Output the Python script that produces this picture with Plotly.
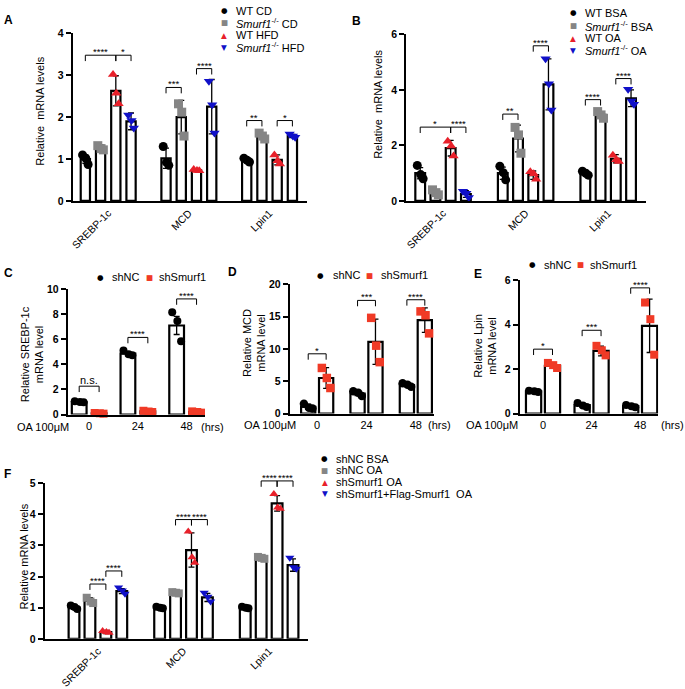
import plotly.graph_objects as go

W, H = 685, 689
FONT = "Liberation Sans, Arial, Helvetica, sans-serif"
GLYPH_FONT = "DejaVu Sans"

# ======================= DATA =======================
GENES = ["SREBP-1c", "MCD", "Lpin1"]
HOURS = ["0", "24", "48"]
KO = "<i>Smurf1</i><sup>-/-</sup>"

# ---- Panel A (CD vs HFD) ----
A_NAMES = ["WT CD", KO + " CD", "WT HFD", KO + " HFD"]
A_WT_CD_MEAN = [1.00, 1.02, 0.97]
A_WT_CD_SD = [0.10, 0.24, 0.04]
A_WT_CD_PTS = [[1.10, 1.02, 0.87], [1.30, 0.92, 0.85], [1.02, 0.97, 0.93]]
A_KO_CD_MEAN = [1.27, 2.00, 1.55]
A_KO_CD_SD = [0.07, 0.40, 0.08]
A_KO_CD_PTS = [[1.32, 1.25, 1.22], [2.32, 2.12, 1.55], [1.62, 1.55, 1.48]]
A_WT_HFD_MEAN = [2.63, 0.73, 0.98]
A_WT_HFD_SD = [0.36, 0.02, 0.12]
A_WT_HFD_PTS = [[3.02, 2.57, 2.32], [0.75, 0.73, 0.72], [1.10, 0.96, 0.88]]
A_KO_HFD_MEAN = [1.90, 2.25, 1.55]
A_KO_HFD_SD = [0.20, 0.65, 0.04]
A_KO_HFD_PTS = [[2.05, 1.92, 1.74], [2.86, 2.30, 1.62], [1.60, 1.55, 1.52]]
A_SIG = [(0, 0, 2, 3.48, "****"), (0, 2, 3, 3.48, "*"), (1, 0, 1, 2.71, "***"),
         (1, 2, 3, 3.16, "****"), (2, 0, 1, 1.92, "**"), (2, 2, 3, 1.92, "*")]

# ---- Panel B (BSA vs OA) ----
B_NAMES = ["WT BSA", KO + " BSA", "WT OA", KO + " OA"]
B_WT_BSA_MEAN = [1.00, 1.00, 1.00]
B_WT_BSA_SD = [0.20, 0.22, 0.06]
B_WT_BSA_PTS = [[1.28, 0.95, 0.80], [1.25, 1.02, 0.76], [1.07, 1.00, 0.93]]
B_KO_BSA_MEAN = [0.30, 2.25, 3.10]
B_KO_BSA_SD = [0.10, 0.48, 0.12]
B_KO_BSA_PTS = [[0.40, 0.30, 0.22], [2.65, 2.38, 1.72], [3.22, 3.10, 2.98]]
B_WT_OA_MEAN = [1.90, 0.93, 1.52]
B_WT_OA_SD = [0.28, 0.15, 0.15]
B_WT_OA_PTS = [[2.15, 1.98, 1.62], [1.05, 0.98, 0.78], [1.65, 1.48, 1.42]]
B_KO_OA_MEAN = [0.25, 4.20, 3.70]
B_KO_OA_SD = [0.12, 0.92, 0.30]
B_KO_OA_PTS = [[0.35, 0.28, 0.12], [5.12, 4.22, 3.28], [4.02, 3.60, 3.48]]
B_SIG = [(0, 0, 2, 2.66, "*"), (0, 2, 3, 2.66, "****"), (1, 0, 1, 3.13, "**"),
         (1, 2, 3, 5.59, "****"), (2, 0, 1, 3.65, "****"), (2, 2, 3, 4.41, "****")]

# ---- Panels C, D, E (shNC vs shSmurf1, OA time course) ----
SH_NAMES = ["shNC", "shSmurf1"]
C_NC_MEAN = [1.00, 4.85, 7.10]
C_NC_SD = [0.05, 0.17, 0.72]
C_NC_PTS = [[1.05, 1.00, 0.97], [5.10, 4.80, 4.72], [8.15, 7.45, 5.85]]
C_SH_MEAN = [0.10, 0.25, 0.20]
C_SH_SD = [0.03, 0.05, 0.05]
C_SH_PTS = [[0.12, 0.10, 0.07], [0.30, 0.24, 0.20], [0.25, 0.20, 0.15]]
C_SIG = [(0, 0, 1, 2.26, "n.s."), (1, 0, 1, 6.15, "****"), (2, 0, 1, 9.22, "****")]

D_NC_MEAN = [1.05, 3.10, 4.40]
D_NC_SD = [0.40, 0.32, 0.22]
D_NC_PTS = [[1.52, 0.90, 0.78], [3.45, 3.20, 2.70], [4.68, 4.45, 4.15]]
D_SH_MEAN = [5.50, 11.10, 14.45]
D_SH_SD = [1.60, 3.50, 1.90]
D_SH_PTS = [[7.05, 5.50, 3.95], [14.80, 10.50, 7.95], [15.80, 15.20, 12.40]]
D_SIG = [(0, 0, 1, 9.24, "*"), (1, 0, 1, 17.5, "***"), (2, 0, 1, 17.6, "****")]

E_NC_MEAN = [1.00, 0.38, 0.33]
E_NC_SD = [0.03, 0.08, 0.05]
E_NC_PTS = [[1.03, 1.00, 0.97], [0.48, 0.36, 0.30], [0.38, 0.33, 0.28]]
E_SH_MEAN = [2.15, 2.82, 3.95]
E_SH_SD = [0.12, 0.22, 1.20]
E_SH_PTS = [[2.28, 2.18, 2.05], [3.05, 2.85, 2.62], [5.00, 4.25, 2.65]]
E_SIG = [(0, 0, 1, 2.90, "*"), (1, 0, 1, 3.75, "***"), (2, 0, 1, 5.66, "****")]

# ---- Panel F (rescue) ----
F_NAMES = ["shNC BSA", "shNC OA", "shSmurf1 OA", "shSmurf1+Flag-Smurf1  OA"]
F_BSA_MEAN = [1.00, 1.00, 1.00]
F_BSA_SD = [0.05, 0.03, 0.03]
F_BSA_PTS = [[1.07, 1.02, 0.96], [1.03, 1.00, 0.98], [1.03, 1.00, 0.98]]
F_OA_MEAN = [1.22, 1.48, 2.60]
F_OA_SD = [0.10, 0.03, 0.04]
F_OA_PTS = [[1.32, 1.20, 1.15], [1.50, 1.48, 1.46], [2.63, 2.60, 2.57]]
F_SH_MEAN = [0.22, 2.85, 4.35]
F_SH_SD = [0.05, 0.55, 0.25]
F_SH_PTS = [[0.25, 0.22, 0.20], [3.45, 2.62, 2.44], [4.65, 4.22, 4.18]]
F_FLAG_MEAN = [1.53, 1.33, 2.37]
F_FLAG_SD = [0.08, 0.13, 0.20]
F_FLAG_PTS = [[1.65, 1.55, 1.45], [1.48, 1.35, 1.20], [2.60, 2.30, 2.25]]
F_SIG = [(0, 1, 2, 1.76, "****"), (0, 2, 3, 2.18, "****"), (1, 1, 2, 3.83, "****"),
         (1, 2, 3, 3.83, "****"), (2, 1, 2, 5.07, "****"), (2, 2, 3, 5.07, "****")]

# ======================= STYLE =======================
BLACK, GREY, RED, BLUE, RED2 = "#000000", "#858585", "#e8202a", "#1010c8", "#f03a26"
STYLES = {
    "circle": ("circle", BLACK, "●"),
    "square": ("square", GREY, "■"),
    "up": ("triangle-up", RED, "▲"),
    "down": ("triangle-down", BLUE, "▼"),
    "rsq": ("square", RED2, "■"),
}
BAR_LW = 2.2
AX_LW = 2
JIT = [-0.3, 0.05, 0.3]

def ser(name, mean, sd, pts, style):
    return dict(name=name, mean=mean, sd=sd, pts=pts, style=style)

A_SERIES = [ser(A_NAMES[0], A_WT_CD_MEAN, A_WT_CD_SD, A_WT_CD_PTS, "circle"),
            ser(A_NAMES[1], A_KO_CD_MEAN, A_KO_CD_SD, A_KO_CD_PTS, "square"),
            ser(A_NAMES[2], A_WT_HFD_MEAN, A_WT_HFD_SD, A_WT_HFD_PTS, "up"),
            ser(A_NAMES[3], A_KO_HFD_MEAN, A_KO_HFD_SD, A_KO_HFD_PTS, "down")]
B_SERIES = [ser(B_NAMES[0], B_WT_BSA_MEAN, B_WT_BSA_SD, B_WT_BSA_PTS, "circle"),
            ser(B_NAMES[1], B_KO_BSA_MEAN, B_KO_BSA_SD, B_KO_BSA_PTS, "square"),
            ser(B_NAMES[2], B_WT_OA_MEAN, B_WT_OA_SD, B_WT_OA_PTS, "up"),
            ser(B_NAMES[3], B_KO_OA_MEAN, B_KO_OA_SD, B_KO_OA_PTS, "down")]
C_SERIES = [ser(SH_NAMES[0], C_NC_MEAN, C_NC_SD, C_NC_PTS, "circle"),
            ser(SH_NAMES[1], C_SH_MEAN, C_SH_SD, C_SH_PTS, "rsq")]
D_SERIES = [ser(SH_NAMES[0], D_NC_MEAN, D_NC_SD, D_NC_PTS, "circle"),
            ser(SH_NAMES[1], D_SH_MEAN, D_SH_SD, D_SH_PTS, "rsq")]
E_SERIES = [ser(SH_NAMES[0], E_NC_MEAN, E_NC_SD, E_NC_PTS, "circle"),
            ser(SH_NAMES[1], E_SH_MEAN, E_SH_SD, E_SH_PTS, "rsq")]
F_SERIES = [ser(F_NAMES[0], F_BSA_MEAN, F_BSA_SD, F_BSA_PTS, "circle"),
            ser(F_NAMES[1], F_OA_MEAN, F_OA_SD, F_OA_PTS, "square"),
            ser(F_NAMES[2], F_SH_MEAN, F_SH_SD, F_SH_PTS, "up"),
            ser(F_NAMES[3], F_FLAG_MEAN, F_FLAG_SD, F_FLAG_PTS, "down")]

# layout of each panel (pixel geometry)
CFG = {
    "A": dict(n=1, xpx=(70, 305), ypx=(28, 199), xr=(-0.44, 2.46), ymax=4, dtick=1, slot=15.3, bw=11.5,
              rot=-45, msize=9, letter=(6, 14), ytitle="Relative  mRNA levels", ytpos=(37, 107),
              legend=[(222, 232, 5), (222, 232, 17), (222, 232, 30), (222, 232, 42)]),
    "B": dict(n=2, xpx=(405, 646), ypx=(29, 199), xr=(-0.446, 2.46), ymax=6, dtick=2, slot=15.3, bw=12,
              rot=-45, msize=9, letter=(355, 15), ytitle="Relative  mRNA levels", ytpos=(376.5, 100),
              legend=[(573, 583, 7), (573, 583, 20), (573, 583, 33), (573, 583, 45)]),
    "C": dict(n=3, xpx=(65, 203), ypx=(289, 417), xr=(-0.44, 2.38), ymax=10, dtick=2, slot=20, bw=17,
              rot=0, msize=8, letter=(6, 273), ytitle="Relative SREBP-1c<br>mRNA level", ytpos=(28.5, 355),
              legend=[(98, 107, 277), (147, 155, 277)], oa=(40, 430), hrs=(210, 430)),
    "D": dict(n=4, xpx=(288, 433), ypx=(284, 416), xr=(-0.556, 2.37), ymax=20, dtick=5, slot=18, bw=16.5,
              rot=0, msize=8.5, letter=(231, 272), ytitle="Relative MCD<br>mRNA level", ytpos=(252, 344),
              legend=[(319, 329, 275), (368, 378, 275)], oa=(268, 428), hrs=(438.5, 428)),
    "E": dict(n=5, xpx=(519, 658), ypx=(280, 416), xr=(-0.48, 2.37), ymax=6, dtick=2, slot=19, bw=17.5,
              rot=0, msize=8, letter=(477, 274), ytitle="Relative Lpin<br>mRNA level", ytpos=(484, 347),
              legend=[(532, 541, 264), (580, 588, 264)], oa=(491, 428), hrs=(672, 428)),
    "F": dict(n=6, xpx=(42, 306), ypx=(487, 646), xr=(-0.62, 2.45), ymax=5, dtick=1, slot=16, bw=13,
              rot=-45, msize=8, letter=(5, 478), ytitle="Relative mRNA levels", ytpos=(21, 562),
              legend=[(323, 332, 462), (323, 332, 474), (323, 332, 486), (323, 332, 498)]),
}

fig = go.Figure()


def paper(px, py):
    return px / W, 1 - py / H


def add_panel(key, cats, series, sig):
    cfg = CFG[key]
    n = cfg["n"]
    suf = "" if n == 1 else str(n)
    bsuf = str(n + 6)  # invisible axis used for significance brackets (extends above the frame)
    xr_, yr_, ybr = "x" + suf, "y" + suf, "y" + bsuf
    x0, x1 = cfg["xpx"]
    y0, y1 = cfg["ypx"]
    r0, r1 = cfg["xr"]
    catpx = (x1 - x0) / (r1 - r0)
    unitpx = (y1 - y0) / cfg["ymax"]
    ns = len(series)
    slot = cfg["slot"] / catpx
    bw = (cfg["bw"] - BAR_LW) / catpx
    centers = []
    for k, s in enumerate(series):
        sym, col, glyph = STYLES[s["style"]]
        off = (k - (ns - 1) / 2) * slot
        xs = [i + off for i in range(len(cats))]
        centers.append(xs)
        fig.add_trace(go.Bar(
            x=xs, y=s["mean"], width=bw, xaxis=xr_, yaxis=yr_, name=s["name"],
            marker=dict(color="white", line=dict(color="black", width=BAR_LW)),
            error_y=dict(type="data", array=s["sd"], color="black", thickness=1.3, width=3),
            showlegend=False, hoverinfo="skip"))
        ptx, pty = [], []
        for i, vals in enumerate(s["pts"]):
            for j, v in enumerate(vals):
                ptx.append(xs[i] + JIT[j] * bw)
                pty.append(v)
        fig.add_trace(go.Scatter(
            x=ptx, y=pty, mode="markers", name=s["name"], xaxis=xr_, yaxis=yr_, cliponaxis=False,
            marker=dict(symbol=sym, color=col, size=cfg["msize"], line=dict(width=0)),
            showlegend=False))
        # legend entry (glyph + text)
        gx, tx, gy = cfg["legend"][k]
        px_, py_ = paper(gx, gy)
        fig.add_annotation(x=px_, y=py_, xref="paper", yref="paper", text=glyph, showarrow=False,
                           xanchor="center", yanchor="middle",
                           font=dict(family=GLYPH_FONT, size=7.5, color=col))
        px_, py_ = paper(tx, gy)
        fig.add_annotation(x=px_, y=py_, xref="paper", yref="paper", text=s["name"], showarrow=False,
                           xanchor="left", yanchor="middle", font=dict(family=FONT, size=11, color="black"))

    # significance brackets on an invisible axis with identical scale but taller domain
    ext = min(30, y0)
    y0e = y0 - ext
    bmax = cfg["ymax"] * (y1 - y0e) / (y1 - y0)
    tick = 6 / unitpx
    bx, by = [], []
    for (c, a, b, yv, txt) in sig:
        xa_, xb_ = centers[a][c], centers[b][c]
        bx += [xa_, xa_, xb_, xb_, None]
        by += [yv - tick, yv, yv, yv - tick, None]
        ns_ = txt == "n.s."
        fig.add_annotation(x=(xa_ + xb_) / 2, y=yv, xref=xr_, yref=ybr, text=txt, showarrow=False,
                           xanchor="center", yanchor="bottom", yshift=(-1.5 if ns_ else -4),
                           font=dict(family=FONT, size=(11 if ns_ else 9.5), color="black"))
    fig.add_trace(go.Scatter(x=bx, y=by, mode="lines", xaxis=xr_, yaxis=ybr, cliponaxis=False,
                             line=dict(color="black", width=1), hoverinfo="skip", showlegend=False))

    # axes
    fig.update_layout(**{
        "xaxis" + suf: dict(domain=[x0 / W, x1 / W], range=list(cfg["xr"]), anchor=yr_,
                            tickmode="array", tickvals=list(range(len(cats))), ticktext=cats,
                            tickangle=cfg["rot"], showline=True, linecolor="black", linewidth=AX_LW,
                            ticks="", showgrid=False, zeroline=False, fixedrange=True,
                            tickfont=dict(family=FONT, size=11 if cfg["rot"] == 0 else 10.5, color="black")),
        "yaxis" + suf: dict(domain=[1 - y1 / H, 1 - y0 / H], range=[0, cfg["ymax"]], anchor=xr_,
                            tick0=0, dtick=cfg["dtick"], ticks="outside", ticklen=5, tickwidth=1.5,
                            tickcolor="black", showline=True, linecolor="black", linewidth=AX_LW,
                            showgrid=False, zeroline=False, fixedrange=True,
                            tickfont=dict(family=FONT, size=10.5, color="black", weight="bold")),
        "yaxis" + bsuf: dict(domain=[1 - y1 / H, 1 - y0e / H], range=[0, bmax], anchor=xr_,
                             visible=False, showgrid=False, zeroline=False, fixedrange=True),
    })

    # y-axis title
    tx_, ty_ = paper(*cfg["ytpos"])
    fig.add_annotation(x=tx_, y=ty_, xref="paper", yref="paper", text=cfg["ytitle"], showarrow=False,
                       textangle=-90, xanchor="center", yanchor="middle",
                       font=dict(family=FONT, size=11, color="black"))
    # panel letter
    lx, ly = paper(*cfg["letter"])
    fig.add_annotation(x=lx, y=ly, xref="paper", yref="paper", text="<b>%s</b>" % key, showarrow=False,
                       xanchor="center", yanchor="middle", font=dict(family=FONT, size=12, color="black"))
    # treatment labels
    if "oa" in cfg:
        ox, oy = paper(*cfg["oa"])
        fig.add_annotation(x=ox, y=oy, xref="paper", yref="paper", text="OA 100μM", showarrow=False,
                           xanchor="center", yanchor="middle", font=dict(family=FONT, size=11, color="black"))
        hx, hy = paper(*cfg["hrs"])
        fig.add_annotation(x=hx, y=hy, xref="paper", yref="paper", text="(hrs)", showarrow=False,
                           xanchor="center", yanchor="middle", font=dict(family=FONT, size=11, color="black"))


add_panel("A", GENES, A_SERIES, A_SIG)
add_panel("B", GENES, B_SERIES, B_SIG)
add_panel("C", HOURS, C_SERIES, C_SIG)
add_panel("D", HOURS, D_SERIES, D_SIG)
add_panel("E", HOURS, E_SERIES, E_SIG)
add_panel("F", GENES, F_SERIES, F_SIG)

fig.update_layout(width=W, height=H, margin=dict(l=0, r=0, t=0, b=0), barmode="overlay",
                  plot_bgcolor="rgba(0,0,0,0)", paper_bgcolor="white", showlegend=False,
                  font=dict(family=FONT, color="black"))

fig.write_html("out.html", config={"displayModeBar": False},
               post_script="document.body.style.margin='0px';document.body.style.padding='0px';")
